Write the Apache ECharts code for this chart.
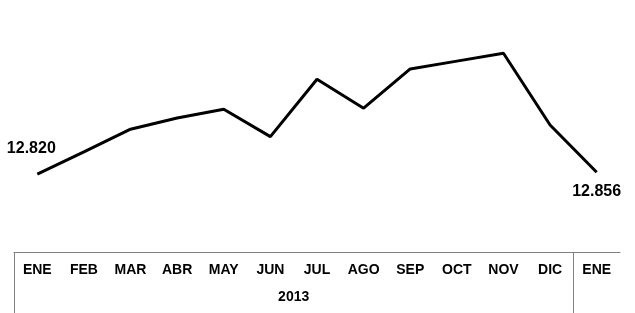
<!DOCTYPE html>
<html>
<head>
<meta charset="utf-8">
<script src="https://cdn.jsdelivr.net/npm/echarts@6/dist/echarts.min.js"></script>
<style>html,body{margin:0;padding:0;background:#fff}#c{width:635px;height:313px}</style>
</head>
<body>
<div id="c"></div>
<script>
const months = ['ENE','FEB','MAR','ABR','MAY','JUN','JUL','AGO','SEP','OCT','NOV','DIC','ENE'];
const values = [12820,13223,13630,13833,13990,13497,14530,14008,14715,14856,14998,13707,12856];
const yearLabels = ['', '2013', ''];

const FONT = 'Liberation Sans, Arial, sans-serif';
const gridLeft = 14, gridWidth = 606, gridBottom = 61;
const fmt = v => String(v).replace(/\B(?=(\d{3})+(?!\d))/g, '.');

const data = values.map((v, i) => {
  if (i === 0) return {value: v, label: {show: true, position: 'top', distance: 18, offset: [-6, 0]}};
  if (i === values.length - 1) return {value: v, label: {show: true, position: 'bottom', distance: 11}};
  return v;
});

const chart = echarts.init(document.getElementById('c'), null, {renderer: 'canvas'});
chart.setOption({
  animation: false,
  grid: [
    {left: gridLeft, width: gridWidth, top: 20, bottom: gridBottom},
    {left: gridLeft, width: gridWidth * 12 / 13, top: 20, bottom: gridBottom}
  ],
  xAxis: [
    {
      type: 'category', gridIndex: 0, data: months, boundaryGap: true,
      axisLine: {lineStyle: {color: '#808080', width: 1}},
      axisTick: {show: false},
      axisLabel: {color: '#000', fontFamily: FONT, fontWeight: 'bold', fontSize: 14, margin: 11}
    },
    {
      type: 'category', gridIndex: 1, data: yearLabels, boundaryGap: false,
      axisLine: {show: false},
      axisTick: {show: true, length: 61, interval: (i) => i !== 1, lineStyle: {color: '#808080', width: 1}},
      axisLabel: {color: '#000', fontFamily: FONT, fontWeight: 'bold', fontSize: 14, margin: 38, interval: 0}
    }
  ],
  yAxis: [
    {type: 'value', gridIndex: 0, min: 11420, max: 15596, show: false, splitLine: {show: false}},
    {type: 'value', gridIndex: 1, min: 0, max: 1, show: false, splitLine: {show: false}}
  ],
  series: [{
    type: 'line', xAxisIndex: 0, yAxisIndex: 0, data: data,
    showSymbol: true, symbol: 'circle', symbolSize: 0.01,
    itemStyle: {color: '#000'},
    lineStyle: {color: '#000', width: 3},
    label: {show: false, color: '#000', fontFamily: FONT, fontWeight: 'bold', fontSize: 16, formatter: p => fmt(p.value)}
  }]
});
</script>
</body>
</html>
